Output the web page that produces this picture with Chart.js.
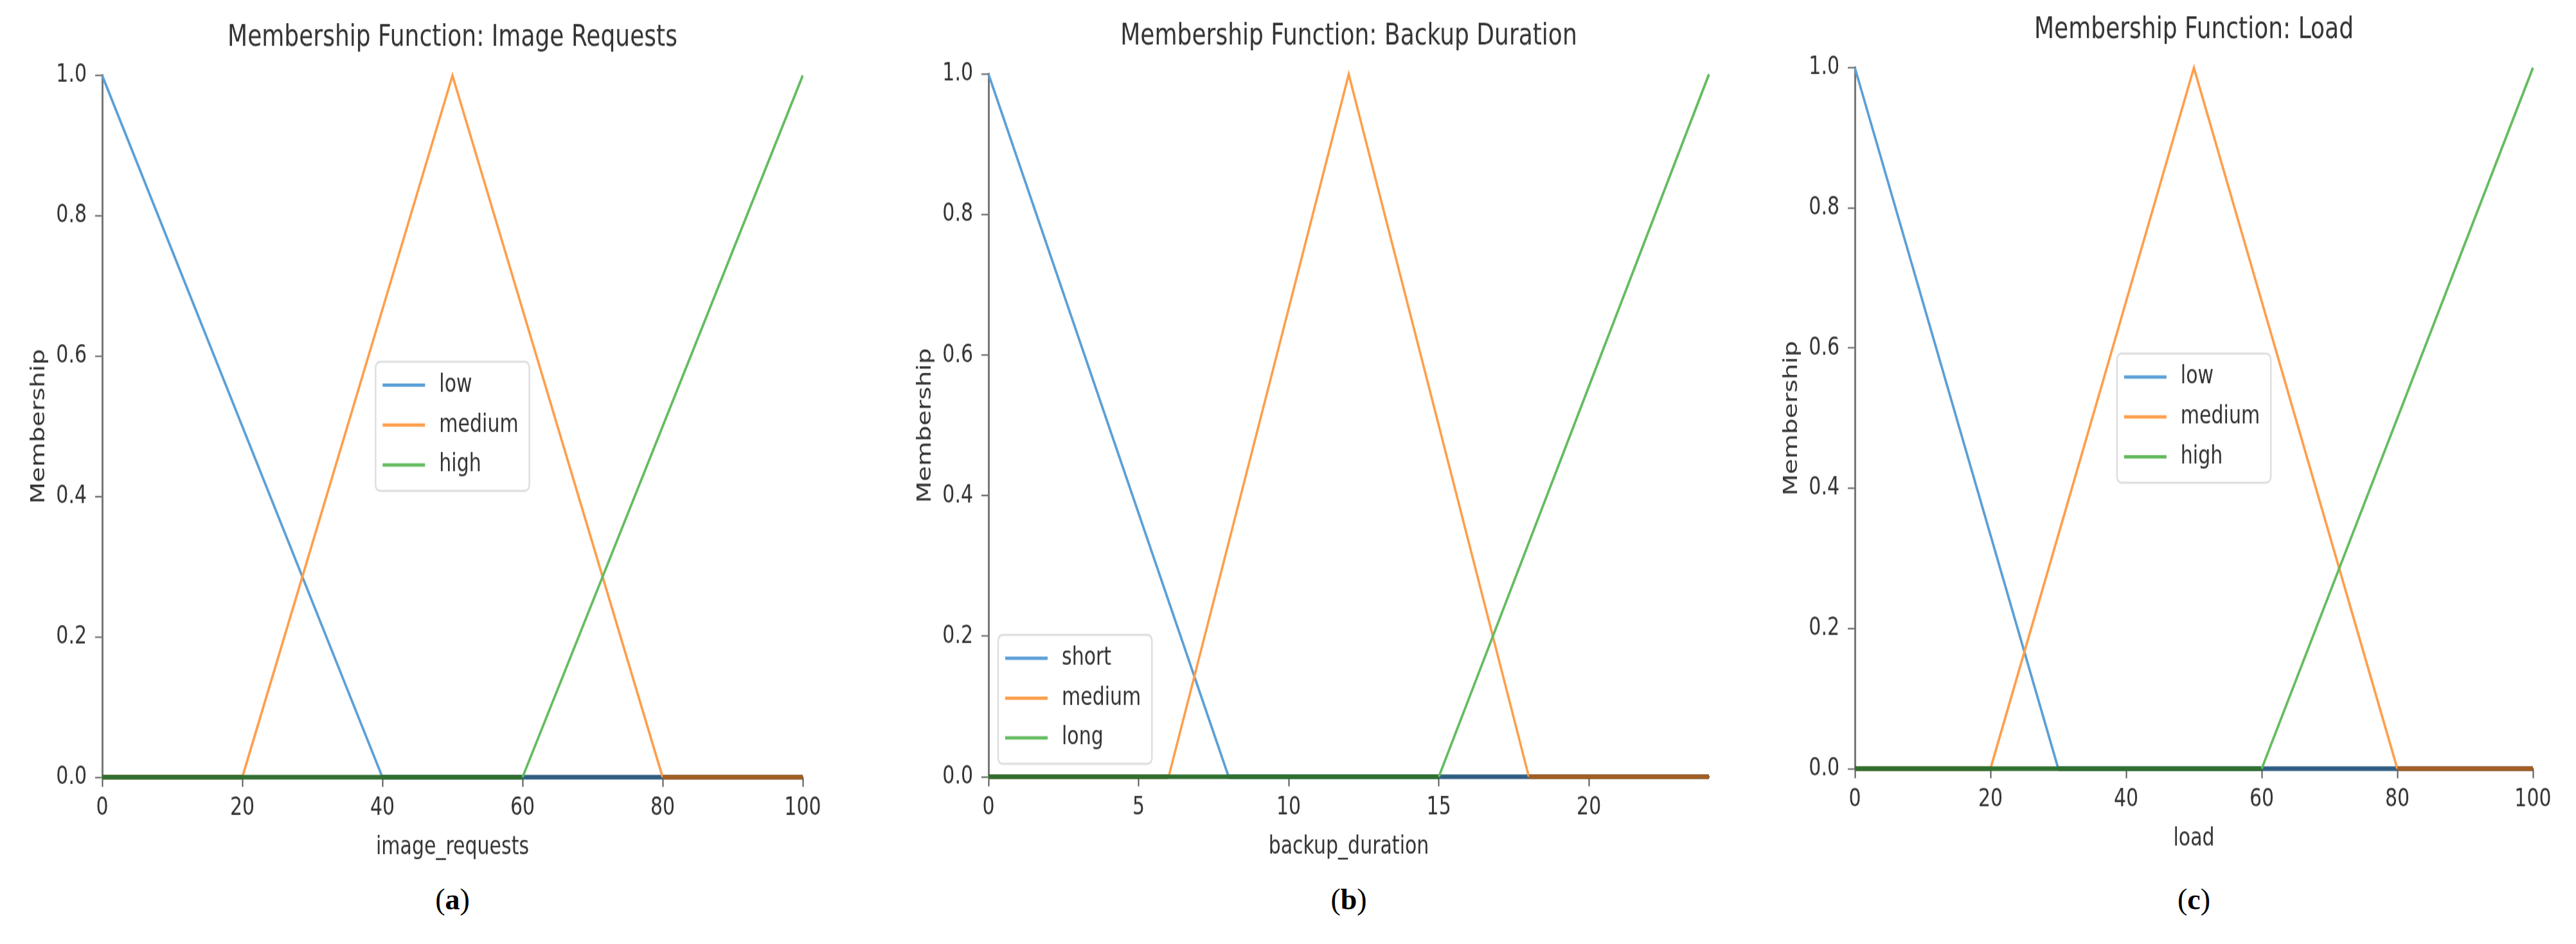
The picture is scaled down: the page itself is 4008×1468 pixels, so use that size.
<!DOCTYPE html>
<html>
<head>
<meta charset="utf-8">
<script src="https://cdn.jsdelivr.net/npm/chart.js@4.4.0/dist/chart.umd.min.js"></script>
<style>
  html, body { margin: 0; padding: 0; background: #fff; }
  body { width: 4008px; height: 1468px; position: relative; overflow: hidden; }
  .panel { position: absolute; transform-origin: 0 0; }
  .panel canvas { display: block; }
  .caption {
    position: absolute;
    font-family: 'Liberation Serif', 'DejaVu Serif', serif;
    font-size: 46px;
    color: #000;
    transform: translateX(-50%);
    white-space: nowrap;
  }
</style>
</head>
<body>
<div class="panel" id="panelA"><canvas id="chartA"></canvas></div>
<div class="panel" id="panelB"><canvas id="chartB"></canvas></div>
<div class="panel" id="panelC"><canvas id="chartC"></canvas></div>
<div class="caption" id="capA">(<b>a</b>)</div>
<div class="caption" id="capB">(<b>b</b>)</div>
<div class="caption" id="capC">(<b>c</b>)</div>
<script>
// Panel texts
const panelTitles = ['Membership Function: Image Requests', 'Membership Function: Backup Duration', 'Membership Function: Load'];
const xAxisTitles = ['image_requests', 'backup_duration', 'load'];
const yAxisTitle = 'Membership';
const xAxisMax = [100, 24, 100];
const xTickStep = [20, 5, 20];
const yTicks = [0, 0.2, 0.4, 0.6, 0.8, 1.0];

// Term names per panel
const imageTerms = ['low', 'medium', 'high'];
const backupTerms = ['short', 'medium', 'long'];
const loadTerms = ['low', 'medium', 'high'];

// Membership curves: breakpoints (x) and membership (y)
const imageLowX = [0, 40, 100];           const imageLowY = [1, 0, 0];
const imageMediumX = [0, 20, 50, 80, 100]; const imageMediumY = [0, 0, 1, 0, 0];
const imageHighX = [0, 60, 100];          const imageHighY = [0, 0, 1];

const backupShortX = [0, 8, 24];          const backupShortY = [1, 0, 0];
const backupMediumX = [0, 6, 12, 18, 24]; const backupMediumY = [0, 0, 1, 0, 0];
const backupLongX = [0, 15, 24];          const backupLongY = [0, 0, 1];

const loadLowX = [0, 30, 100];            const loadLowY = [1, 0, 0];
const loadMediumX = [0, 20, 50, 80, 100]; const loadMediumY = [0, 0, 1, 0, 0];
const loadHighX = [0, 60, 100];           const loadHighY = [0, 0, 1];

// Line colours (light) and the darker look of the zero baseline
const termColors = ['#5b9fd6', '#fd9f4c', '#63bb5f'];
const zeroColors = ['#2e5c82', '#a35e22', '#2f6f2f'];

const FONT = '"DejaVu Sans", sans-serif';

// The source figure is stretched vertically; draw unstretched and scale in CSS
const STRETCH = 1.3;

// Plot areas in page pixels
const plotBoxes = [
    { left: 159, right: 1249, top: 117, bottom: 1208 },
    { left: 1538, right: 2659, top: 115, bottom: 1207 },
    { left: 2886, right: 3941, top: 105, bottom: 1195 }
];
// sizes below are in canvas (unstretched) pixels
const Y_SCALE_W = 150;
const X_SCALE_H = 110;
const RIGHT_PAD = 40;
const TITLE_SIZE = 36;
const LABEL_SIZE = 30;
const TITLE_PAD_TOP = 6;
const TITLE_PAD_BOTTOM = 23.4;
const TITLE_BLOCK = TITLE_PAD_TOP + TITLE_SIZE * 1.2 + TITLE_PAD_BOTTOM;

function toPoints(xs, ys) {
    return xs.map((x, i) => ({ x: x, y: ys[i] }));
}

// Legend drawn inside the plot, matplotlib style
const legendBox = {
    id: 'legendBox',
    afterDatasetsDraw(chart, args, opts) {
        const { ctx, chartArea } = chart;
        ctx.save();
        ctx.font = LABEL_SIZE + 'px ' + FONT;
        const labels = chart.data.datasets.map(d => d.label);
        const textW = Math.max(...labels.map(l => ctx.measureText(l).width));
        const padL = 11, lineLen = 66, gap = 22, padR = 17;
        const padT = 28, padB = 31, rowH = 47.7;
        const w = padL + lineLen + gap + textW + padR;
        const h = padT + rowH * (labels.length - 1) + padB;
        let x, y;
        if (opts.loc === 'lower left') {
            x = chartArea.left + 15;
            y = chartArea.bottom - 15.4 - h;
        } else {
            x = (chartArea.left + chartArea.right) / 2 - w / 2;
            y = (chartArea.top + chartArea.bottom) / 2 - h / 2;
        }
        ctx.beginPath();
        ctx.roundRect(x, y, w, h, 7);
        ctx.fillStyle = 'rgba(255,255,255,0.8)';
        ctx.fill();
        ctx.lineWidth = 2.5;
        ctx.strokeStyle = '#dedede';
        ctx.stroke();
        chart.data.datasets.forEach((d, i) => {
            const cy = y + padT + i * rowH;
            ctx.beginPath();
            ctx.moveTo(x + padL, cy);
            ctx.lineTo(x + padL + lineLen, cy);
            ctx.strokeStyle = d.borderColor;
            ctx.lineWidth = 4;
            ctx.stroke();
            ctx.fillStyle = '#333';
            ctx.textBaseline = 'middle';
            ctx.textAlign = 'left';
            ctx.fillText(d.label, x + padL + lineLen + gap, cy);
        });
        ctx.restore();
    }
};

function makeDataset(label, xs, ys, idx) {
    const isZero = c => c.p0.parsed.y === 0 && c.p1.parsed.y === 0;
    return {
        label: label,
        data: toPoints(xs, ys),
        borderColor: termColors[idx],
        borderWidth: 3.6,
        pointRadius: 0,
        tension: 0,
        fill: false,
        clip: 10,
        order: 2 - idx,   // last term drawn on top, like matplotlib
        segment: {
            borderColor: c => isZero(c) ? zeroColors[idx] : undefined,
            borderWidth: c => isZero(c) ? 5.5 : undefined
        }
    };
}

function buildChart(panelId, canvasId, panel, terms, curves, legendLoc) {
    const box = plotBoxes[panel];
    const wrap = document.getElementById(panelId);
    const canvas = document.getElementById(canvasId);
    const w = Math.round(Y_SCALE_W + (box.right - box.left) + RIGHT_PAD);
    const h = Math.round(TITLE_BLOCK + (box.bottom - box.top) / STRETCH + X_SCALE_H);
    canvas.width = w;
    canvas.height = h;
    wrap.style.left = (box.left - Y_SCALE_W) + 'px';
    wrap.style.top = (box.top - TITLE_BLOCK * STRETCH) + 'px';
    wrap.style.transform = 'scaleY(' + STRETCH + ')';

    return new Chart(canvas.getContext('2d'), {
        type: 'line',
        data: {
            datasets: terms.map((t, i) => makeDataset(t, curves[i][0], curves[i][1], i))
        },
        plugins: [legendBox],
        options: {
            responsive: false,
            animation: false,
            devicePixelRatio: 1,
            layout: { padding: { left: 0, right: RIGHT_PAD, top: 0, bottom: 0 } },
            plugins: {
                legend: { display: false },
                tooltip: { enabled: false },
                legendBox: { loc: legendLoc },
                title: {
                    display: true,
                    fullSize: false,   // centre over the plot, not the canvas
                    text: panelTitles[panel],
                    color: '#333',
                    font: { family: FONT, size: TITLE_SIZE, weight: 'normal', lineHeight: 1.2 },
                    padding: { top: TITLE_PAD_TOP, bottom: TITLE_PAD_BOTTOM }
                }
            },
            scales: {
                x: {
                    type: 'linear',
                    min: 0,
                    max: xAxisMax[panel],
                    afterFit: s => { s.height = X_SCALE_H; },
                    border: { display: true, color: '#555', width: 2 },
                    grid: { display: true, drawOnChartArea: false, drawTicks: true, tickLength: 11.5, tickColor: '#555', tickWidth: 2 },
                    ticks: {
                        stepSize: xTickStep[panel],
                        includeBounds: false,
                        autoSkip: false,
                        maxRotation: 0,
                        padding: 8,
                        color: '#333',
                        font: { family: FONT, size: LABEL_SIZE },
                        callback: v => String(v)
                    },
                    title: {
                        display: true,
                        text: xAxisTitles[panel],
                        color: '#333',
                        font: { family: FONT, size: LABEL_SIZE, lineHeight: 1.2 },
                        padding: { top: 0, bottom: 7.5 }
                    }
                },
                y: {
                    type: 'linear',
                    min: 0,
                    max: 1,
                    afterFit: s => { s.width = Y_SCALE_W; },
                    afterBuildTicks: s => { s.ticks = yTicks.map(v => ({ value: v })); },
                    border: { display: true, color: '#777', width: 3 },
                    grid: { display: true, drawOnChartArea: false, drawTicks: true, tickLength: 11, tickColor: '#555', tickWidth: 1.6 },
                    ticks: {
                        padding: 13,
                        color: '#333',
                        font: { family: FONT, size: LABEL_SIZE },
                        callback: v => Number(v).toFixed(1)
                    },
                    title: {
                        display: true,
                        text: yAxisTitle,
                        color: '#333',
                        font: { family: FONT, size: LABEL_SIZE, lineHeight: 1.2 },
                        padding: { top: 34, bottom: 0 }
                    }
                }
            }
        }
    });
}

buildChart('panelA', 'chartA', 0, imageTerms,
    [[imageLowX, imageLowY], [imageMediumX, imageMediumY], [imageHighX, imageHighY]], 'center');
buildChart('panelB', 'chartB', 1, backupTerms,
    [[backupShortX, backupShortY], [backupMediumX, backupMediumY], [backupLongX, backupLongY]], 'lower left');
buildChart('panelC', 'chartC', 2, loadTerms,
    [[loadLowX, loadLowY], [loadMediumX, loadMediumY], [loadHighX, loadHighY]], 'center');

// Captions centred under each plot
['capA', 'capB', 'capC'].forEach((id, i) => {
    const el = document.getElementById(id);
    el.style.left = ((plotBoxes[i].left + plotBoxes[i].right) / 2) + 'px';
    el.style.top = '1372px';
});
</script>
</body>
</html>
